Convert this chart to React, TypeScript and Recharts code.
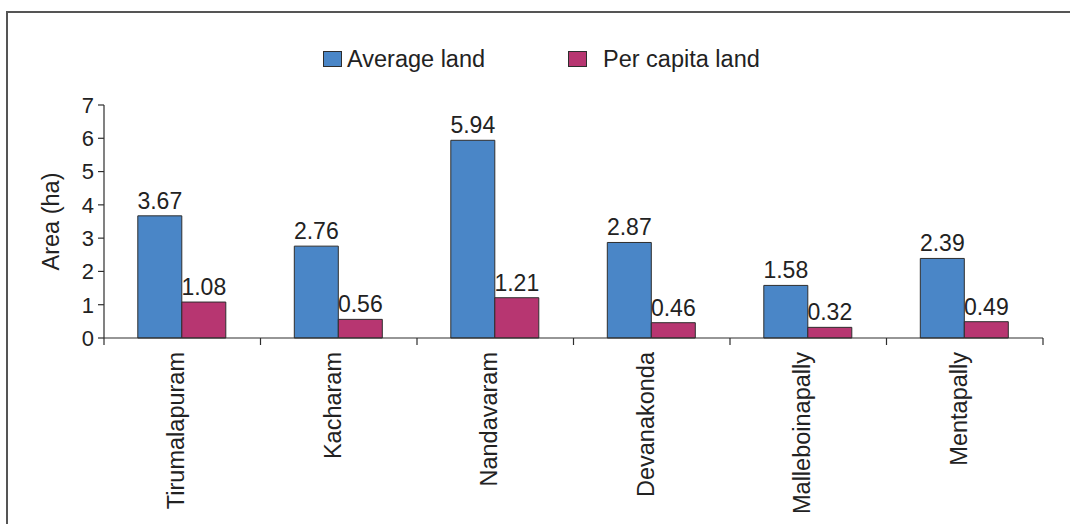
import React from 'react';
import { BarChart, Bar, XAxis, YAxis, LabelList, Legend } from 'recharts';

const categories = ['Tirumalapuram', 'Kacharam', 'Nandavaram', 'Devanakonda', 'Malleboinapally', 'Mentapally'];
const averageLand = [3.67, 2.76, 5.94, 2.87, 1.58, 2.39];
const perCapitaLand = [1.08, 0.56, 1.21, 0.46, 0.32, 0.49];
const yTicks = [0, 1, 2, 3, 4, 5, 6, 7];

const seriesNames = { avg: 'Average land', pc: 'Per capita land' };
const BLUE = '#4a86c7';
const PINK = '#b73671';
const EDGE = '#2e2e2e';
const TEXT = '#222222';
const FRAME = '#555555';
const FONT = '"Liberation Sans", Arial, Helvetica, sans-serif';

const data = categories.map((name, i) => ({ name, avg: averageLand[i], pc: perCapitaLand[i] }));

const CategoryTick = (props: any) => {
  const { x, y, payload, index } = props;
  const half = payload && payload.offset ? payload.offset : 78.25;
  const ty = y + 14;
  const tx = x + 2;
  const last = index === categories.length - 1;
  return (
    <g>
      <line x1={x - half} x2={x - half} y1={y} y2={y + 7} stroke={EDGE} strokeWidth={1.2} />
      {last && <line x1={x + half} x2={x + half} y1={y} y2={y + 7} stroke={EDGE} strokeWidth={1.2} />}
      <text
        x={tx}
        y={ty}
        transform={`rotate(-90, ${tx}, ${ty})`}
        textAnchor="end"
        fontSize={23.5}
        fill={TEXT}
        fontFamily={FONT}
      >
        {payload.value}
      </text>
    </g>
  );
};

const LegendContent = () => {
  const items = [
    { name: seriesNames.avg, color: BLUE, width: 245, gap: 5 },
    { name: seriesNames.pc, color: PINK, width: 220, gap: 16 },
  ];
  return (
    <div style={{ display: 'flex', paddingLeft: 323, fontFamily: FONT, fontSize: 23.5, color: TEXT, lineHeight: '26px' }}>
      {items.map((it) => (
        <div key={it.name} style={{ display: 'flex', alignItems: 'center', width: it.width, flex: 'none' }}>
          <div
            style={{
              width: 17,
              height: 14,
              background: it.color,
              border: `1px solid ${EDGE}`,
              marginRight: it.gap,
              flex: 'none',
            }}
          />
          <span>{it.name}</span>
        </div>
      ))}
    </div>
  );
};

const YLabel = (props: any) => {
  const vb = props.viewBox || { x: 0, y: 0, width: 0, height: 0 };
  const cx = vb.x + 59;
  const cy = vb.y + vb.height / 2;
  return (
    <text
      x={cx}
      y={cy}
      transform={`rotate(-90, ${cx}, ${cy})`}
      textAnchor="middle"
      fontSize={23.5}
      fill={TEXT}
      fontFamily={FONT}
    >
      Area (ha)
    </text>
  );
};

export default function App() {
  return (
    <div style={{ position: 'fixed', left: 0, top: 0, width: 1070, height: 524, overflow: 'hidden', background: '#fff', fontFamily: FONT }}>
      <div style={{ position: 'absolute', left: 6, top: 11, width: 1064, height: 1.5, background: FRAME }} />
      <div style={{ position: 'absolute', left: 6, top: 11, width: 1.5, height: 513, background: FRAME }} />
      <div style={{ position: 'absolute', left: 0, top: 0 }}>
        <BarChart
          width={1070}
          height={524}
          data={data}
          margin={{ top: 105, right: 27, left: 0, bottom: 0 }}
          barCategoryGap="21.6%"
          barGap={0}
        >
          <XAxis
            xAxisId="cat"
            dataKey="name"
            axisLine={{ stroke: EDGE, strokeWidth: 1.2 }}
            tickLine={false}
            tickSize={0}
            tickMargin={0}
            height={186}
            interval={0}
            tick={<CategoryTick />}
          />
          <XAxis
            xAxisId="top"
            dataKey="name"
            orientation="top"
            tick={false}
            tickLine={false}
            height={0}
            axisLine={{ stroke: EDGE, strokeWidth: 1.2 }}
          />
          <YAxis
            yAxisId="left"
            domain={[0, 7]}
            ticks={yTicks}
            width={104}
            tickSize={6}
            tickMargin={4}
            tick={{ fontSize: 22, fill: TEXT, fontFamily: FONT }}
            axisLine={{ stroke: EDGE, strokeWidth: 1.2 }}
            tickLine={{ stroke: EDGE, strokeWidth: 1.2 }}
            label={<YLabel />}
          />
          <YAxis
            yAxisId="right"
            orientation="right"
            domain={[0, 7]}
            allowDataOverflow
            width={0}
            tick={false}
            tickLine={false}
            axisLine={{ stroke: EDGE, strokeWidth: 1.2 }}
          />
          <Legend
            verticalAlign="middle"
            align="center"
            layout="horizontal"
            wrapperStyle={{ top: 46, left: 0, width: 1070 }}
            content={<LegendContent />}
          />
          <Bar
            xAxisId="cat"
            yAxisId="left"
            dataKey="avg"
            name={seriesNames.avg}
            fill={BLUE}
            stroke={EDGE}
            strokeWidth={1}
            isAnimationActive={false}
          >
            <LabelList dataKey="avg" position="top" offset={7} fontSize={23} fill={TEXT} fontFamily={FONT} />
          </Bar>
          <Bar
            xAxisId="cat"
            yAxisId="left"
            dataKey="pc"
            name={seriesNames.pc}
            fill={PINK}
            stroke={EDGE}
            strokeWidth={1}
            isAnimationActive={false}
          >
            <LabelList dataKey="pc" position="top" offset={7} fontSize={23} fill={TEXT} fontFamily={FONT} />
          </Bar>
        </BarChart>
      </div>
    </div>
  );
}
